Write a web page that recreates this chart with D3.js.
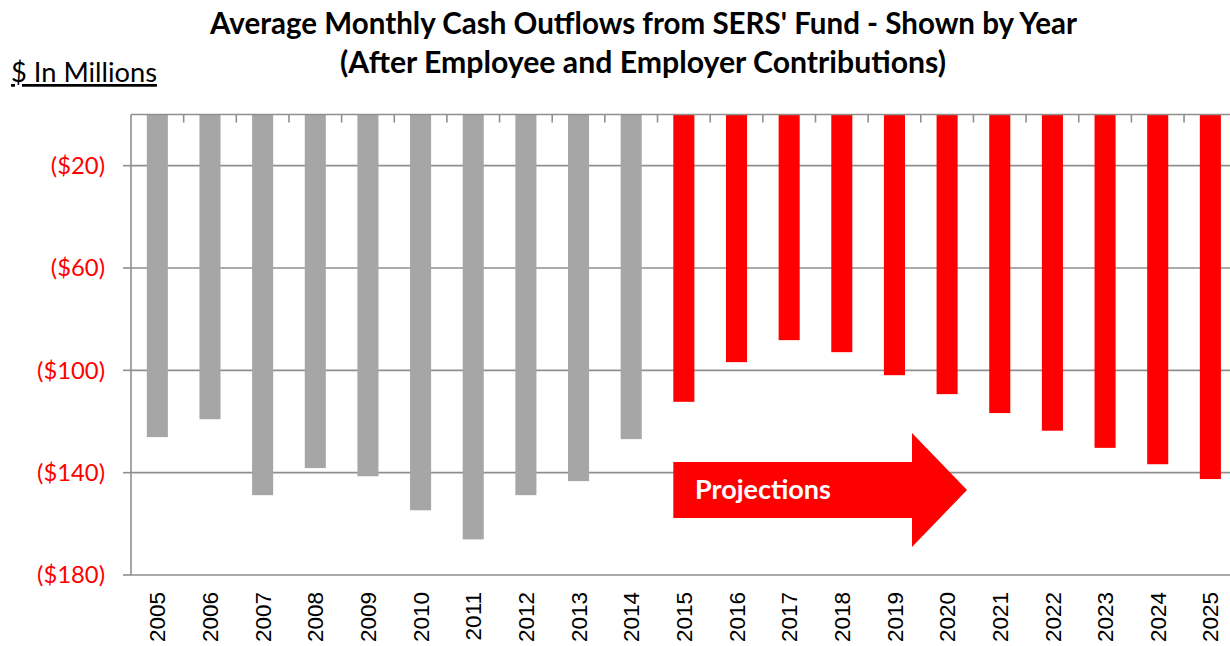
<!DOCTYPE html>
<html>
<head>
<meta charset="utf-8">
<script src="https://cdn.jsdelivr.net/npm/d3@7"></script>
<style>
  html, body { margin: 0; padding: 0; background: #fff; }
  svg { display: block; }
</style>
</head>
<body>
<svg id="chart" width="1230" height="646"></svg>
<script>
// ---- Data ----
const years = ["2005","2006","2007","2008","2009","2010","2011","2012","2013","2014",
               "2015","2016","2017","2018","2019","2020","2021","2022","2023","2024","2025"];
const outflows = [-126.1, -119.1, -148.8, -138.2, -141.4, -154.7, -166.1, -148.8, -143.3, -126.9,
                  -112.3, -96.8, -88.2, -92.9, -101.9, -109.3, -116.7, -123.6, -130.3, -136.7, -142.5];
const isProjection = [false,false,false,false,false,false,false,false,false,false,
                      true,true,true,true,true,true,true,true,true,true,true];
const yTicks = [-20, -60, -100, -140, -180];
const yTickLabels = ["($20)", "($60)", "($100)", "($140)", "($180)"];
const titleLines = ["Average Monthly Cash Outflows from SERS' Fund - Shown by Year",
                    "(After Employee and Employer Contributions)"];
const unitLabel = "$ In Millions";
const arrowLabel = "Projections";

// ---- Layout ----
const svg = d3.select("#chart");
const plotLeft = 131, plotRight = 1236.7, plotTop = 114.5, plotBottom = 575;
const gridColor = "#8f8f8f";
const font = "Lato, 'Open Sans', 'Liberation Sans', sans-serif";

const x = d3.scaleBand().domain(years).range([plotLeft, plotRight]).paddingInner(0.6).paddingOuter(0.3);
const y = d3.scaleLinear().domain([-180, 0]).range([plotBottom, plotTop]);

function fitText(sel, width) {
  const node = sel.node();
  const fs = parseFloat(sel.attr("font-size"));
  const len = node.getComputedTextLength();
  if (len > 0) sel.attr("font-size", (fs * width / len).toFixed(2));
  return sel;
}

// gridlines
svg.append("g").selectAll("line").data(yTicks).join("line")
  .attr("x1", plotLeft).attr("x2", 1230)
  .attr("y1", d => y(d)).attr("y2", d => y(d))
  .attr("stroke", gridColor).attr("stroke-width", 1.6);

// bars
const data = years.map((yr, i) => ({ yr, v: outflows[i], proj: isProjection[i] }));
svg.append("g").selectAll("rect").data(data).join("rect")
  .attr("x", d => x(d.yr))
  .attr("width", x.bandwidth())
  .attr("y", y(0))
  .attr("height", d => y(d.v) - y(0))
  .attr("fill", d => d.proj ? "#ff0000" : "#a6a6a6");

// zero (category) axis at top
svg.append("line").attr("x1", plotLeft).attr("x2", 1230).attr("y1", y(0)).attr("y2", y(0))
  .attr("stroke", gridColor).attr("stroke-width", 1.6);
const step = x.step();
const boundaries = years.slice(1).map((yr) => x(yr) - (step - x.bandwidth()) / 2);
svg.append("g").selectAll("line").data(boundaries).join("line")
  .attr("x1", d => d).attr("x2", d => d)
  .attr("y1", y(0)).attr("y2", y(0) + 8)
  .attr("stroke", gridColor).attr("stroke-width", 1.6);

// left value axis
svg.append("line").attr("x1", plotLeft).attr("x2", plotLeft).attr("y1", y(0)).attr("y2", y(-180))
  .attr("stroke", gridColor).attr("stroke-width", 1.6);
svg.append("g").selectAll("line").data(yTicks).join("line")
  .attr("x1", plotLeft - 8).attr("x2", plotLeft)
  .attr("y1", d => y(d)).attr("y2", d => y(d))
  .attr("stroke", gridColor).attr("stroke-width", 1.6);

// y tick labels
const yl = svg.append("g").selectAll("text").data(yTicks).join("text")
  .attr("x", 105).attr("y", d => y(d)).attr("dy", "0.35em")
  .attr("text-anchor", "end")
  .attr("font-family", font).attr("font-size", 22)
  .attr("fill", "#ff0000")
  .text((d, i) => yTickLabels[i]);
{
  const ref = yl.filter((d, i) => i === 2).node().getComputedTextLength();
  if (ref > 0) yl.attr("font-size", (22 * 68 / ref).toFixed(2));
}

// x labels rotated
svg.append("g").selectAll("text").data(years).join("text")
  .attr("transform", d => `translate(${x(d) + x.bandwidth() / 2},592) rotate(-90)`)
  .attr("dy", "0.36em")
  .attr("text-anchor", "end")
  .attr("font-family", "'Liberation Sans', Arial, sans-serif").attr("font-size", 22.5)
  .attr("fill", "#000")
  .text(d => d);

// title
const t1 = svg.append("text").attr("x", 643.5).attr("y", 34).attr("text-anchor", "middle")
  .attr("font-family", font).attr("font-weight", "bold").attr("font-size", 26).text(titleLines[0]);
fitText(t1, 867);
const t2 = svg.append("text").attr("x", 643).attr("y", 73).attr("text-anchor", "middle")
  .attr("font-family", font).attr("font-weight", "bold").attr("font-size", 26).text(titleLines[1]);
fitText(t2, 606);

// unit label
const u = svg.append("text").attr("x", 11).attr("y", 82)
  .attr("font-family", font).attr("font-size", 22).attr("text-decoration", "underline")
  .text(unitLabel);
fitText(u, 146);

// projections arrow
const ax0 = x("2015"), ax1 = 912, atip = 967;
const ay = 490, half = 28, headHalf = 57;
const arrowPts = [[ax0, ay - half], [ax1, ay - half], [ax1, ay - headHalf], [atip, ay],
                  [ax1, ay + headHalf], [ax1, ay + half], [ax0, ay + half]];
svg.append("polygon").attr("points", arrowPts.map(p => p.join(",")).join(" "))
  .attr("fill", "#ff0000");
const pt = svg.append("text").attr("x", 695).attr("y", 499)
  .attr("font-family", font).attr("font-weight", "bold").attr("font-size", 23)
  .attr("fill", "#fff").text(arrowLabel);
fitText(pt, 136);
</script>
</body>
</html>
